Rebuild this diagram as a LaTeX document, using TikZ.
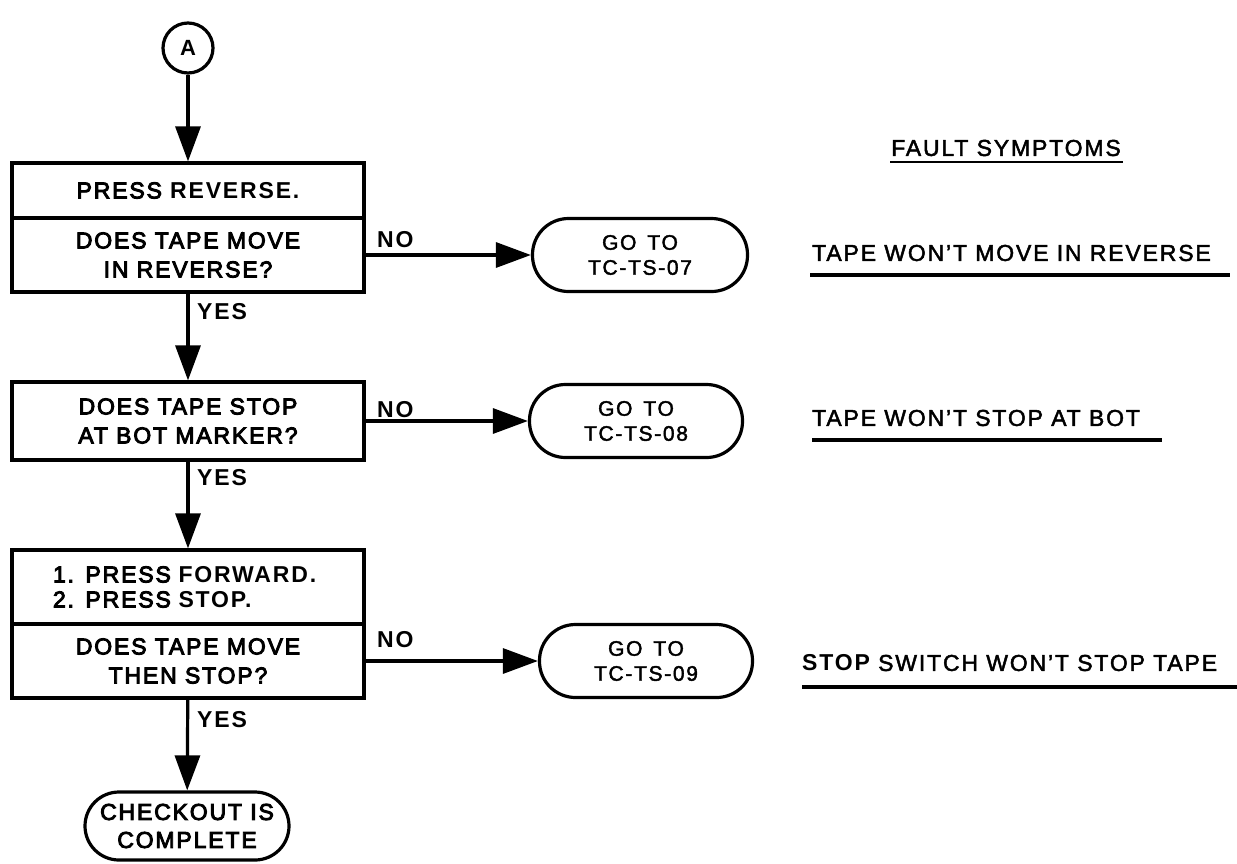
\documentclass[tikz,border=0pt]{standalone}
\usepackage{fontspec}
\setmainfont{Liberation Sans}[LetterSpace=8]
\newfontfamily\medfont{Liberation Sans}[LetterSpace=8,FakeBold=4]
\newfontfamily\bookfont{Liberation Sans}[LetterSpace=8,FakeBold=2]
\usetikzlibrary{arrows.meta}
% key names on the tape unit are set in bold
\newcommand\keyname[1]{{\normalfont\bfseries #1}}
% wide gap used in the exit terminals
\newcommand\goto{GO\hspace{11pt}TO}

\begin{document}
\begin{tikzpicture}[x=1pt,y=-1pt,
  every node/.style={inner sep=0pt},
  arrowline/.style={line width=3.2pt, -{Triangle[length=35pt,width=25pt]}},
  stepbox/.style={draw, line width=3.2pt, rectangle, minimum width=352pt,
    font=\medfont\fontsize{23}{29}\selectfont, align=center},
  term/.style={draw, line width=3.2pt, rectangle, rounded corners=36pt,
    minimum width=215pt, minimum height=73pt,
    font=\bookfont\fontsize{21}{25}\selectfont, align=center},
  answer/.style={font=\bfseries\fontsize{23}{28}\selectfont, anchor=west},
  symptom/.style={font=\bookfont\fontsize{23}{28}\selectfont, anchor=west},
  underline/.style={line width=3.5pt},
]
\fill[white] (0,0) rectangle (1237,863);
\useasboundingbox (0,0) rectangle (1237,863);

% entry connector
\node[draw, circle, line width=3.2pt, minimum size=50pt,
  font=\bfseries\fontsize{22}{24}\selectfont] (A) at (188,48) {A};

% main column of steps
\node[stepbox, minimum height=55pt] (p1) at (188,190.5) {PRESS \keyname{REVERSE.}};
\node[stepbox, minimum height=74pt] (q1) at (188,255) {DOES TAPE MOVE\\IN REVERSE?};
\node[stepbox, minimum height=78pt] (q2) at (188,421) {DOES TAPE STOP\\AT BOT MARKER?};
\node[stepbox, minimum height=74pt, align=left, text width=270pt, inner xsep=41pt,
  font=\medfont\fontsize{23}{25}\selectfont] (p3) at (188,587)
  {1. PRESS \keyname{FORWARD.}\\2. PRESS \keyname{STOP.}};
\node[stepbox, minimum height=74pt] (q3) at (188,661) {DOES TAPE MOVE\\THEN STOP?};

% terminals
\node[term] (go1) at (640,255) {\goto\\TC-TS-07};
\node[term, minimum width=213pt] (go2) at (636,421) {\goto\\TC-TS-08};
\node[term, minimum width=213pt] (go3) at (646,661) {\goto\\TC-TS-09};
\node[term, rounded corners=34pt, minimum width=204pt, minimum height=68pt,
  font=\medfont\fontsize{23}{28}\selectfont] (done) at (187,826) {CHECKOUT IS\\COMPLETE};

% flow
\draw[arrowline] (A) -- (p1);
\draw[arrowline] (q1) -- (q2);
\draw[arrowline] (q2) -- (p3);
\draw[arrowline] (q3) -- (done);
\draw[arrowline] (q1) -- (go1);
\draw[arrowline] (q2) -- (go2);
\draw[arrowline] (q3) -- (go3);

% branch labels
\node[answer] (yes1) at (197,312) {YES};
\node[answer] (yes2) at (197,478) {YES};
\node[answer] (yes3) at (197,720) {YES};
\node[answer] (no1) at (377,240) {NO};
\node[answer] (no2) at (377,410) {NO};
\node[answer] (no3) at (377,640) {NO};

% fault symptoms column
\node[symptom, anchor=center] (fs) at (1006,148) {FAULT SYMPTOMS};
\draw[line width=2pt] (890,162) -- (1123,162);
\node[symptom] (s1) at (812,253) {TAPE WON’T MOVE IN REVERSE};
\draw[underline] (810,275) -- (1230,275);
\node[symptom] (s2) at (812,418) {TAPE WON’T STOP AT BOT};
\draw[underline] (812,440) -- (1162,440);
\node[symptom] (s3) at (802,663) {\keyname{STOP} SWITCH WON’T STOP TAPE};
\draw[underline] (802,687) -- (1237,687);
\end{tikzpicture}
\end{document}
